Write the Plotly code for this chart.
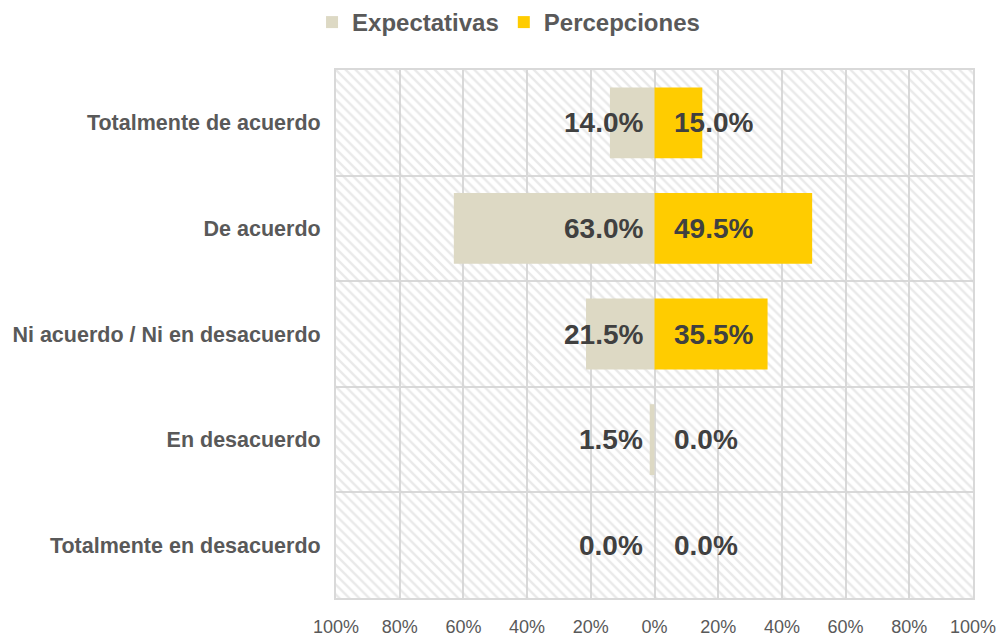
import plotly.graph_objects as go

# Categories (top to bottom) and the two series, in percent.
categories = [
    "Totalmente de acuerdo",
    "De acuerdo",
    "Ni acuerdo / Ni en desacuerdo",
    "En desacuerdo",
    "Totalmente en desacuerdo",
]
expectativas = [14.0, 63.0, 21.5, 1.5, 0.0]
percepciones = [15.0, 49.5, 35.5, 0.0, 0.0]

tick_vals = [-100, -80, -60, -40, -20, 0, 20, 40, 60, 80, 100]
tick_text = ["100%", "80%", "60%", "40%", "20%", "0%", "20%", "40%", "60%", "80%", "100%"]

font_family = "Liberation Sans, Arial, sans-serif"
x_min, x_max = tick_vals[0], tick_vals[-1]

fig = go.Figure()

# hatched background for the whole plot area (one band per category)
fig.add_trace(go.Bar(
    y=categories, x=[x_max - x_min] * len(categories), base=x_min,
    orientation="h", width=1, showlegend=False, hoverinfo="skip",
    marker=dict(color="rgba(0,0,0,0)", line_width=0,
                pattern=dict(shape="\\", fgcolor="#d4d4d4", bgcolor="rgba(0,0,0,0)",
                             size=7, solidity=0.35)),
))

# expectativas go to the left, percepciones to the right
fig.add_trace(go.Bar(
    y=categories, x=[-v for v in expectativas], name="Expectativas",
    orientation="h", width=0.67, marker_color="#DDD9C4", marker_line_width=0,
    customdata=expectativas, hovertemplate="%{y}: %{customdata:.1f}%<extra></extra>",
))
fig.add_trace(go.Bar(
    y=categories, x=percepciones, name="Percepciones",
    orientation="h", width=0.67, marker_color="#FFCC00", marker_line_width=0,
    hovertemplate="%{y}: %{x:.1f}%<extra></extra>",
))

# value labels sit next to the zero line
for cat, e, p in zip(categories, expectativas, percepciones):
    fig.add_annotation(x=0, y=cat, text=f"{e:.1f}%", showarrow=False,
                       xanchor="right", xshift=-10,
                       font=dict(family=font_family, size=28, color="#404040", weight="bold"))
    fig.add_annotation(x=0, y=cat, text=f"{p:.1f}%", showarrow=False,
                       xanchor="left", xshift=17,
                       font=dict(family=font_family, size=28, color="#404040", weight="bold"))

fig.update_layout(
    width=1007, height=639,
    margin=dict(l=336, r=34, t=70, b=41),
    barmode="overlay",
    plot_bgcolor="white", paper_bgcolor="white",
    font=dict(family=font_family, color="#595959"),
    legend=dict(orientation="h", xref="container", x=0.505, xanchor="center",
                yref="container", y=1.0, yanchor="top",
                font=dict(size=24, color="#595959", weight="bold"),
                itemwidth=30, traceorder="normal"),
    showlegend=True,
)

fig.update_xaxes(
    range=[x_min, x_max], tickvals=tick_vals, ticktext=tick_text,
    showgrid=True, gridcolor="#d9d9d9", gridwidth=2, zeroline=False,
    showline=True, linecolor="#d9d9d9", linewidth=2, mirror=True,
    ticks="", ticklabelstandoff=11, automargin=False,
    tickfont=dict(family=font_family, size=18, color="#595959"),
    fixedrange=True,
)
fig.update_yaxes(
    type="category", categoryorder="array", categoryarray=categories[::-1],
    tickson="boundaries", showgrid=True, gridcolor="#d9d9d9", gridwidth=2,
    showline=True, linecolor="#d9d9d9", linewidth=2, mirror=True,
    ticks="", ticklabelstandoff=9, automargin=False,
    tickfont=dict(size=21.5, color="#595959", weight="bold"),
    fixedrange=True,
)

# drop the browser's default body margin so the figure fills the window
fig.write_html("out.html", config={"displayModeBar": False},
               post_script="document.body.style.margin = '0';")
